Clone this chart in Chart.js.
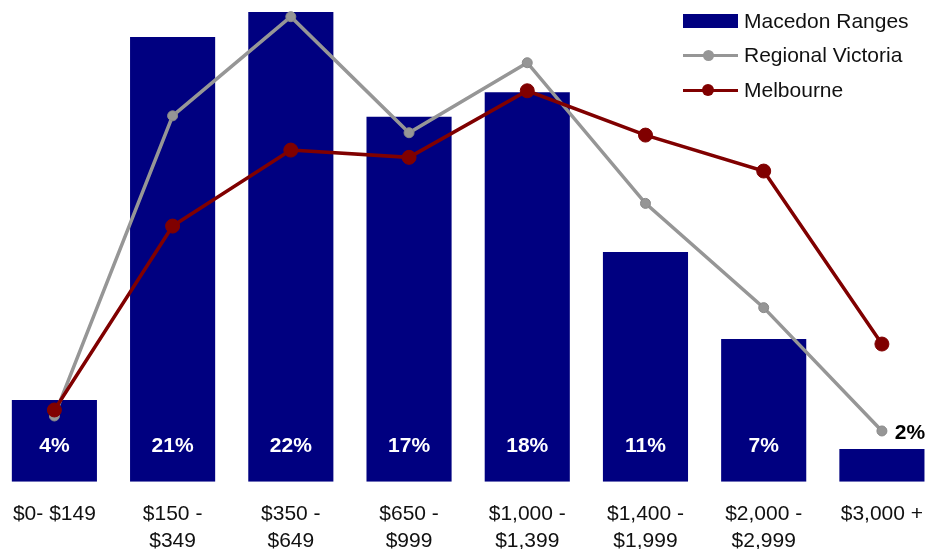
<!DOCTYPE html>
<html>
<head>
<meta charset="utf-8">
<script src="https://cdn.jsdelivr.net/npm/chart.js@4/dist/chart.umd.min.js"></script>
<style>
  html, body { margin: 0; padding: 0; background: #fff; overflow: hidden; }
  body { width: 926px; height: 549px; position: relative; font-family: "Liberation Sans", Arial, sans-serif; }
  #wrap { position: absolute; left: -6px; top: 0; width: 948px; height: 549px; }
  #legend { position: absolute; left: 683px; top: 0; font-size: 21px; color: #111; }
  .item { position: absolute; left: 0; height: 24px; width: 240px; }
  .item span { position: absolute; left: 61px; top: 0; line-height: 24px; white-space: nowrap; }
  .box { position: absolute; left: 0; top: 5px; width: 55px; height: 14px; }
  .ln { position: absolute; left: 0; top: 10.5px; width: 55px; height: 3px; }
  .dot { position: absolute; border-radius: 50%; }
</style>
</head>
<body>
<div id="wrap"><canvas id="chart"></canvas></div>
<div id="legend"></div>
<script>
const categories = [['$0- $149'], ['$150 -', '$349'], ['$350 -', '$649'], ['$650 -', '$999'],
  ['$1,000 -', '$1,399'], ['$1,400 -', '$1,999'], ['$2,000 -', '$2,999'], ['$3,000 +']];
const macedonRanges = [3.82, 20.77, 21.94, 17.05, 18.19, 10.73, 6.67, 1.53];
const regionalVictoria = [3.07, 17.09, 21.72, 16.30, 19.57, 13.00, 8.13, 2.37];
const melbourne = [3.35, 11.94, 15.49, 15.15, 18.26, 16.19, 14.51, 6.43];
const seriesNames = ['Macedon Ranges', 'Regional Victoria', 'Melbourne'];

(function () {
  const NAVY = '#000080';
  const GREY = '#969696';
  const MAROON = '#800000';
  const FONT = '"Liberation Sans", Arial, sans-serif';

  const barLabels = {
    id: 'barLabels',
    afterDatasetsDraw(chart) {
      const meta = chart.getDatasetMeta(0);
      const ctx = chart.ctx;
      ctx.save();
      ctx.font = 'bold 21px ' + FONT;
      ctx.textAlign = 'center';
      ctx.textBaseline = 'middle';
      meta.data.forEach((bar, i) => {
        const text = Math.round(macedonRanges[i]) + '%';
        if (bar.base - bar.y > 60) {
          ctx.fillStyle = '#fff';
          ctx.fillText(text, bar.x, bar.base - 35);
        } else {
          ctx.fillStyle = '#000';
          ctx.fillText(text, bar.x + 28, bar.y - 16);
        }
      });
      ctx.restore();
    }
  };

  function renderLegend() {
    const box = document.getElementById('legend');
    box.innerHTML = `
      <div class="item" style="top:9px"><div class="box" style="background:${NAVY}"></div><span>${seriesNames[0]}</span></div>
      <div class="item" style="top:43px"><div class="ln" style="background:${GREY}"></div>
        <div class="dot" style="left:20px;top:6.5px;width:11px;height:11px;background:${GREY}"></div><span>${seriesNames[1]}</span></div>
      <div class="item" style="top:78px"><div class="ln" style="background:${MAROON}"></div>
        <div class="dot" style="left:19px;top:6px;width:12px;height:12px;background:${MAROON}"></div><span>${seriesNames[2]}</span></div>
    `;
  }

  function renderChart() {
    new Chart(document.getElementById('chart'), {
      type: 'bar',
      data: {
        labels: categories,
        datasets: [{
          label: seriesNames[0],
          data: macedonRanges,
          backgroundColor: NAVY,
          categoryPercentage: 1,
          barPercentage: 0.72,
          order: 3
        }, {
          type: 'line',
          label: seriesNames[1],
          data: regionalVictoria,
          borderColor: GREY,
          backgroundColor: GREY,
          borderWidth: 3.5,
          pointRadius: 5,
          pointBorderWidth: 1,
          pointBorderColor: '#8a8a8a',
          tension: 0,
          order: 2
        }, {
          type: 'line',
          label: seriesNames[2],
          data: melbourne,
          borderColor: MAROON,
          backgroundColor: MAROON,
          borderWidth: 3.5,
          pointRadius: 7,
          pointBorderWidth: 1,
          tension: 0,
          order: 1
        }]
      },
      options: {
        responsive: true,
        maintainAspectRatio: false,
        animation: false,
        layout: { padding: 0, autoPadding: false },
        plugins: { legend: { display: false }, tooltip: { enabled: false } },
        scales: {
          x: {
            grid: { display: false, drawTicks: false },
            border: { display: false },
            ticks: {
              color: '#111',
              padding: 19,
              maxRotation: 0,
              autoSkip: false,
              font: { family: FONT, size: 21, lineHeight: '27px' }
            },
            afterFit(scale) { scale.height = 67.3; }
          },
          y: { display: false, min: 0, max: 22.5 }
        }
      },
      plugins: [barLabels]
    });
  }

  renderLegend();
  renderChart();
})();
</script>
</body>
</html>
